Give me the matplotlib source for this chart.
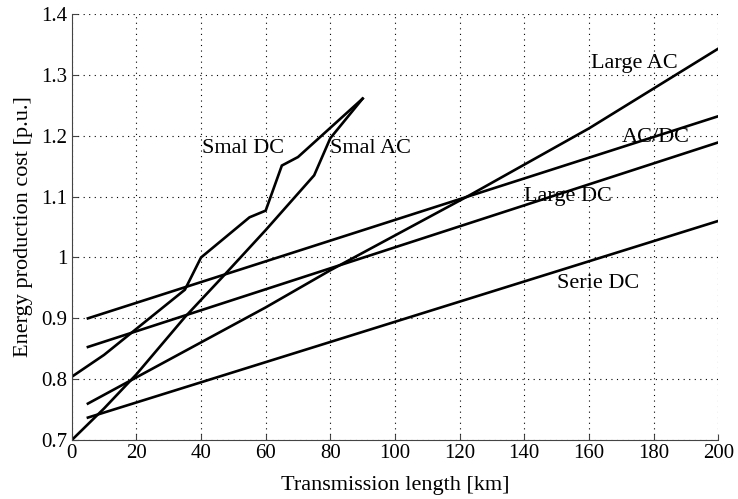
import numpy as np
import matplotlib
matplotlib.use("Agg")
import matplotlib.pyplot as plt
from matplotlib.ticker import FuncFormatter

plt.rcParams["font.family"] = ["Liberation Serif", "DejaVu Serif"]

# data
smal_dc_x = [0, 10, 35, 40, 55, 60, 65, 70, 90]
smal_dc_y = [0.804, 0.84, 0.947, 1.0, 1.066, 1.077, 1.151, 1.165, 1.261]

smal_ac_x = [0, 10, 20, 35, 47, 60, 75, 80, 90]
smal_ac_y = [0.70, 0.752, 0.808, 0.902, 0.970, 1.045, 1.135, 1.196, 1.261]

large_ac_x = [5, 60, 80, 123, 160, 200]
large_ac_y = [0.760, 0.918, 0.979, 1.102, 1.212, 1.343]

acdc_x = [5, 200]
acdc_y = [0.900, 1.232]

large_dc_x = [5, 200]
large_dc_y = [0.853, 1.189]

serie_dc_x = [5, 200]
serie_dc_y = [0.737, 1.060]

labels = [
    ("Smal DC", 40.2, 1.179),
    ("Smal AC", 80.0, 1.179),
    ("Large AC", 160.5, 1.318),
    ("AC/DC", 170.3, 1.197),
    ("Large DC", 140.0, 1.100),
    ("Serie DC", 150.1, 0.957),
]

fig = plt.figure(figsize=(7.38, 4.99), dpi=100)
ax = fig.add_axes([0.0972, 0.118, 0.876, 0.854])

for xs, ys in [(smal_dc_x, smal_dc_y), (smal_ac_x, smal_ac_y),
               (large_ac_x, large_ac_y), (acdc_x, acdc_y),
               (large_dc_x, large_dc_y), (serie_dc_x, serie_dc_y)]:
    ax.plot(xs, ys, color="black", lw=1.9, solid_joinstyle="miter")

for txt, x, y in labels:
    ax.text(x, y, txt, fontsize=16, ha="left", va="center", color="black")

ax.set_xlim(0, 200)
ax.set_ylim(0.7, 1.4)
ax.set_xticks(np.arange(0, 201, 20))
ax.set_yticks(np.arange(0.7, 1.41, 0.1))
ax.yaxis.set_major_formatter(FuncFormatter(lambda v, p: "%g" % round(v, 2)))
ax.grid(True, color="black", linestyle=(0, (1, 4)), lw=0.8)
ax.tick_params(direction="in", length=4, labelsize=15, color="#444444", pad=3)
for s in ["top", "right"]:
    ax.spines[s].set_visible(False)
for s in ["left", "bottom"]:
    ax.spines[s].set_color("#444444")
ax.set_xlabel("Transmission length [km]", fontsize=16, labelpad=9)
ax.set_ylabel("Energy production cost [p.u.]", fontsize=16, labelpad=6)

fig.savefig("out.png", dpi=100)
